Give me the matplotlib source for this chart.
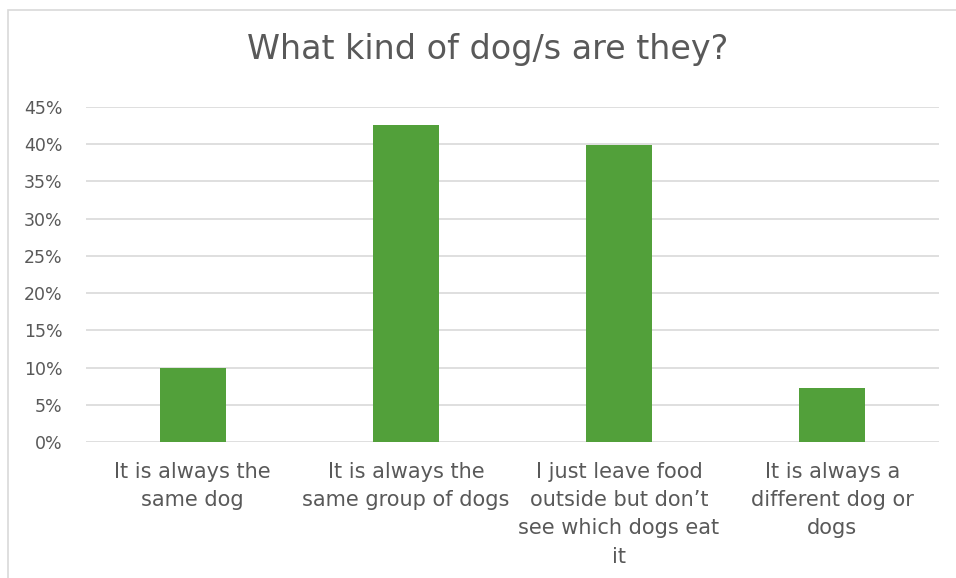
import matplotlib.pyplot as plt
from matplotlib.patches import Rectangle
from matplotlib.ticker import PercentFormatter

plt.rcParams["font.family"] = ["DejaVu Sans"]

# survey answers and share of responses
categories = [
    "It is always the\nsame dog",
    "It is always the\nsame group of dogs",
    "I just leave food\noutside but don\u2019t\nsee which dogs eat\nit",
    "It is always a\ndifferent dog or\ndogs",
]
shares = [0.100, 0.426, 0.399, 0.073]
yticks = [0, 0.05, 0.10, 0.15, 0.20, 0.25, 0.30, 0.35, 0.40, 0.45]

text_col = "#595959"
bar_col = "#52A03A"
grid_col = "#D9D9D9"

fig = plt.figure(figsize=(9.56, 5.78), dpi=100)
ax = fig.add_axes([0.09, 0.2348, 0.892, 0.5806])

x = range(len(categories))
ax.bar(x, shares, width=0.31, color=bar_col, zorder=3)

ax.set_xlim(-0.5, len(categories) - 0.5)
ax.set_ylim(0, 0.45)
ax.set_yticks(yticks)
ax.yaxis.set_major_formatter(PercentFormatter(1.0, decimals=0))
ax.set_xticks(list(x))
ax.set_xticklabels(categories, linespacing=1.52)

ax.grid(axis="y", color=grid_col, linewidth=1.2, zorder=0)
for s in ax.spines.values():
    s.set_visible(False)
ax.tick_params(axis="both", length=0, colors=text_col)
ax.tick_params(axis="y", pad=17, labelsize=12.5)
ax.tick_params(axis="x", pad=14, labelsize=15)

fig.text(0.51, 0.915, "What kind of dog/s are they?", ha="center", va="center",
         fontsize=24, color=text_col)

# chart frame
fig.patches.append(Rectangle((8 / 956, -0.1), 1.2, 1 - 10.5 / 578 + 0.1,
                             transform=fig.transFigure, fill=False,
                             edgecolor=grid_col, linewidth=1.2))

fig.savefig("out.png", dpi=100)
